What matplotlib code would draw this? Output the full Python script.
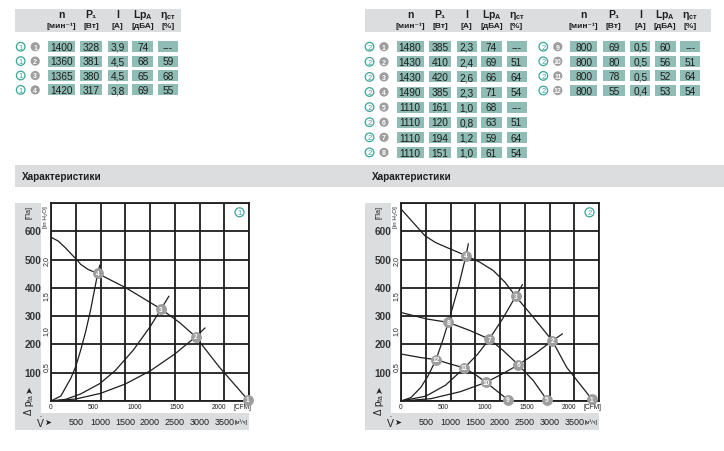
import numpy as np
import matplotlib
matplotlib.use("Agg")
import matplotlib.pyplot as plt
import matplotlib.transforms as mtransforms
from matplotlib.patches import Rectangle, Circle

W, H = 724, 452
plt.rcParams["font.family"] = ["Liberation Sans", "DejaVu Sans"]
plt.rcParams["mathtext.fontset"] = "custom"
plt.rcParams["mathtext.rm"] = "Liberation Sans"
plt.rcParams["mathtext.it"] = "Liberation Sans:italic"

TEAL = "#3aa597"
CELL = "#8fbcb5"
BAND = "#dcdddf"
MARK = "#9d9d9d"
INK = "#1e1e1e"

# ---- table data ----
col_heads = ["n", "P₁", "I", r"Lp$_{\mathregular{A}}$", r"η$_{\mathregular{ст}}$"]
col_units = ["[мин⁻¹]", "[Вт]", "[A]", "[дБА]", "[%]"]

t1_ids = [1, 2, 3, 4]
t1_n = ["1400", "1360", "1365", "1420"]
t1_p = ["328", "381", "380", "317"]
t1_i = ["3,9", "4,5", "4,5", "3,8"]
t1_lp = ["74", "68", "65", "69"]
t1_eta = ["---", "59", "68", "55"]

t2_ids = [1, 2, 3, 4, 5, 6, 7, 8]
t2_n = ["1480", "1430", "1430", "1490", "1110", "1110", "1110", "1110"]
t2_p = ["385", "410", "420", "385", "161", "120", "194", "151"]
t2_i = ["2,3", "2,4", "2,6", "2,3", "1,0", "0,8", "1,2", "1,0"]
t2_lp = ["74", "69", "66", "71", "68", "63", "59", "61"]
t2_eta = ["---", "51", "64", "54", "---", "51", "64", "54"]

t3_ids = [9, 10, 11, 12]
t3_n = ["800", "800", "800", "800"]
t3_p = ["69", "80", "78", "55"]
t3_i = ["0,5", "0,5", "0,5", "0,4"]
t3_lp = ["60", "56", "52", "53"]
t3_eta = ["---", "51", "64", "54"]

# ---- chart 1 curves (V in m3/h, dp in Pa) ----
c1_fan_v = [0, 150, 300, 450, 520, 600, 750, 943, 1200, 1495, 1800, 2222, 2600, 2923, 3400, 3973]
c1_fan_p = [579, 565, 540, 512, 500, 483, 465, 451, 428, 402, 370, 325, 277, 227, 120, 5]
c1_sys4_v = [0, 200, 400, 500, 600, 700, 800, 943, 985]
c1_sys4_p = [0, 18, 80, 122, 180, 245, 322, 451, 480]
c1_sys3_v = [0, 300, 600, 990, 1300, 1663, 2000, 2222, 2380]
c1_sys3_p = [0, 6, 25, 62, 108, 180, 262, 325, 370]
c1_sys2_v = [0, 500, 1000, 1500, 2000, 2500, 2923, 3110]
c1_sys2_p = [0, 7, 27, 60, 106, 166, 227, 258]
c1_pt_id = [1, 2, 3, 4]
c1_pt_v = [3973, 2923, 2222, 943]
c1_pt_p = [5, 227, 325, 451]

# ---- chart 2 curves ----
c2_fanA_v = [0, 250, 485, 700, 923, 1313, 1600, 1865, 2100, 2317, 2673, 3057, 3347, 3852]
c2_fanA_p = [679, 630, 584, 560, 543, 514, 490, 461, 420, 370, 296, 213, 119, 7]
c2_fanB_v = [0, 519, 956, 1394, 1784, 2067, 2370, 2673, 2943]
c2_fanB_p = [313, 290, 278, 249, 219, 178, 128, 72, 5]
c2_fanC_v = [0, 384, 707, 990, 1279, 1529, 1717, 1933, 2155]
c2_fanC_p = [166, 154, 146, 131, 117, 90, 66, 36, 5]
c2_sysA_v = [0, 200, 400, 550, 707, 850, 956, 1150, 1313, 1360]
c2_sysA_p = [0, 12, 48, 90, 146, 218, 278, 397, 514, 555]
c2_sysB_v = [0, 500, 900, 1279, 1550, 1784, 2050, 2317, 2451]
c2_sysB_p = [0, 17, 56, 117, 166, 219, 290, 370, 411]
c2_sysC_v = [0, 600, 1200, 1717, 2050, 2370, 2700, 3057, 3259]
c2_sysC_p = [0, 8, 33, 66, 96, 128, 166, 213, 237]
c2_pt_id = [1, 2, 3, 4, 5, 6, 7, 8, 9, 10, 11, 12]
c2_pt_v = [3852, 3057, 2317, 1313, 2943, 2370, 1784, 956, 2155, 1717, 1279, 707]
c2_pt_p = [7, 213, 370, 514, 5, 128, 219, 278, 5, 66, 117, 146]

pa_ticks = [100, 200, 300, 400, 500, 600]
inh2o_ticks = [0.5, 1.0, 1.5, 2.0]
cfm_ticks = [0, 500, 1000, 1500, 2000]
m3h_ticks = [500, 1000, 1500, 2000, 2500, 3000, 3500]

fig = plt.figure(figsize=(W / 100, H / 100), dpi=100)
fig.patch.set_facecolor("white")
ax0 = fig.add_axes([0, 0, 1, 1])
ax0.set_xlim(0, W)
ax0.set_ylim(H, 0)
ax0.axis("off")


def circled(x, y, num, filled):
    if filled:
        ax0.add_patch(Circle((x, y), 4.6, fc=MARK, ec="none"))
        ax0.text(x, y + 0.3, str(num), color="white", fontsize=5, fontweight="bold",
                 ha="center", va="center")
    else:
        ax0.add_patch(Circle((x, y), 4.3, fc="white", ec=TEAL, lw=0.9))
        ax0.text(x, y + 0.3, str(num), color=TEAL, fontsize=5.5,
                 ha="center", va="center")


col_dx = [40.5, 70.5, 97, 122, 147]
col_w = [27, 22, 20, 20.5, 20]


def draw_table(x0, dy, ids, chart, cols, header=True):
    if header:
        for k in range(5):
            ax0.text(x0 + col_dx[k], 15.5, col_heads[k], fontsize=7.5, fontweight="bold",
                     ha="center", va="center", color=INK)
            ax0.text(x0 + col_dx[k], 26.5, col_units[k], fontsize=6, fontweight="bold",
                     ha="center", va="center", color=INK)
    for r, num in enumerate(ids):
        y = 47.7 + r * dy
        circled(x0, y, chart, False)
        circled(x0 + 14.5, y, num, True)
        for k in range(5):
            cx = x0 + col_dx[k]
            ax0.add_patch(Rectangle((cx - col_w[k] / 2, y - 5.5), col_w[k], 11,
                                    fc=CELL, ec="none"))
            ax0.text(cx, y + 0.3, cols[k][r], fontsize=7.3, ha="center", va="center",
                     color=INK)


# header bands of tables
ax0.add_patch(Rectangle((15, 10), 166, 23, fc=BAND, ec="none"))
ax0.add_patch(Rectangle((365, 10), 346, 23, fc=BAND, ec="none"))
draw_table(20.7, 14.4, t1_ids, 1, [t1_n, t1_p, t1_i, t1_lp, t1_eta])
draw_table(369.5, 15.1, t2_ids, 2, [t2_n, t2_p, t2_i, t2_lp, t2_eta])
draw_table(543.3, 14.6, t3_ids, 2, [t3_n, t3_p, t3_i, t3_lp, t3_eta])

# section bar
ax0.add_patch(Rectangle((15, 166), 709, 22, fc=BAND, ec="none"))
for tx in (22, 372):
    ax0.text(tx, 177.5, "Характеристики", fontsize=7.2, fontweight="bold",
             ha="left", va="center", color=INK)


def draw_chart(left, chart, fans, systems, pid, pv, pp):
    top, bottom, size = 204, 402, 198
    ax = fig.add_axes([left / W, (H - bottom) / H, size / W, size / H])
    ax.set_xlim(0, 4000)
    ax.set_ylim(0, 700)
    ax.set_xticks(np.arange(0, 4001, 500))
    ax.set_yticks(np.arange(0, 701, 100))
    ax.grid(True, color=INK, lw=1.3)
    ax.tick_params(length=0, labelbottom=False, labelleft=False)
    for s in ax.spines.values():
        s.set_color(INK)
        s.set_linewidth(1.3)
    ax.set_axisbelow(True)
    for v, p in fans + systems:
        ax.plot(v, p, color=INK, lw=0.9, zorder=3)
    ax.plot(pv, pp, "o", ms=7.8, color=MARK, mec="none", clip_on=False, zorder=5)
    for i, v, p in zip(pid, pv, pp):
        ax.text(v, p, str(i), color="white", fontsize=4.8, fontweight="bold",
                ha="center", va="center", zorder=6, clip_on=False)

    # gray L-shaped strip
    ax0.add_patch(Rectangle((left - 36, top), 26, 227, fc=BAND, ec="none"))
    ax0.add_patch(Rectangle((left - 36, 414), 234, 17, fc=BAND, ec="none"))

    ty = mtransforms.blended_transform_factory(ax0.transData, ax.transData)
    tx = mtransforms.blended_transform_factory(ax.transData, ax0.transData)
    for p in pa_ticks:
        ax0.text(left - 18, p, str(p), transform=ty, fontsize=7.2, fontweight="bold",
                 ha="center", va="center", color="#333333")
    for h in inh2o_ticks:
        ax0.text(left - 4.5, h * 249.09, f"{h:.1f}".replace(".", ","), transform=ty,
                 fontsize=5, rotation=90, ha="center", va="center", color=INK)
    ax0.text(left - 22, 213, "[Па]", fontsize=5, rotation=90, ha="center",
             va="center", color=INK)
    ax0.text(left - 5, 217, "[in H₂O]", fontsize=4.5, rotation=90, ha="center",
             va="center", color=INK)
    ax0.text(left - 22, 405, r"Δ p$_{\mathregular{fa}}$", fontsize=7, rotation=90,
             ha="center", va="center", color=INK)
    ax0.text(left - 22, 389, "➤", fontsize=6.5, rotation=90, ha="center", va="center",
             color=INK, family="DejaVu Sans")
    for c in cfm_ticks:
        ax0.text(c * 1.699, 408, str(c), transform=tx, fontsize=4.8, ha="center",
                 va="center", color=INK)
    ax0.text(left + 191, 408, "[CFM]", fontsize=4.8, ha="center", va="center", color=INK)
    for m in m3h_ticks:
        ax0.text(m, 422.5, str(m), transform=tx, fontsize=6.5, ha="center",
                 va="center", color=INK)
    ax0.text(left + 190, 422.5, "[м³/ч]", fontsize=4, ha="center", va="center",
             color=INK)
    ax0.text(left - 11, 422.5, r"$\dot{\mathregular{V}}$", fontsize=7.5, ha="center",
             va="center", color=INK)
    ax0.text(left - 3.5, 422.5, "➤", fontsize=6, ha="center", va="center",
             color=INK, family="DejaVu Sans")

    # chart number badge
    ax.add_patch(Circle((left + 188.5, 213.3), 4.5, transform=ax0.transData,
                        fc="white", ec=TEAL, lw=0.9, zorder=7))
    ax.text(left + 188.5, 213.6, str(chart), transform=ax0.transData, color=TEAL,
            fontsize=5.5, ha="center", va="center", zorder=8)
    return ax


draw_chart(51, 1,
           [(c1_fan_v, c1_fan_p)],
           [(c1_sys4_v, c1_sys4_p), (c1_sys3_v, c1_sys3_p), (c1_sys2_v, c1_sys2_p)],
           c1_pt_id, c1_pt_v, c1_pt_p)
draw_chart(401, 2,
           [(c2_fanA_v, c2_fanA_p), (c2_fanB_v, c2_fanB_p), (c2_fanC_v, c2_fanC_p)],
           [(c2_sysA_v, c2_sysA_p), (c2_sysB_v, c2_sysB_p), (c2_sysC_v, c2_sysC_p)],
           c2_pt_id, c2_pt_v, c2_pt_p)

fig.savefig("out.png", dpi=100)
